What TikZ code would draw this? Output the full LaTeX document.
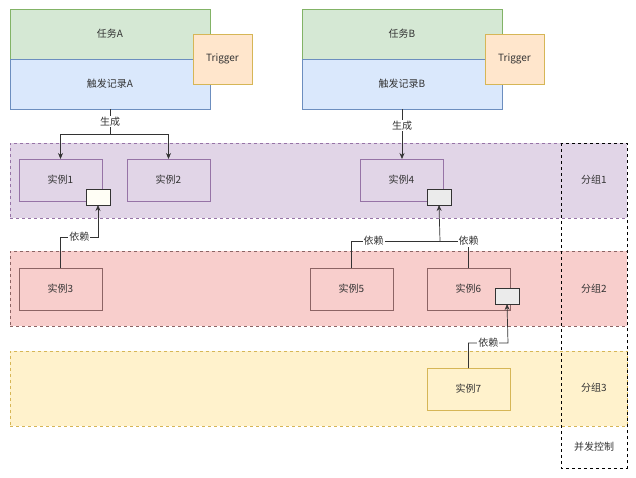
\documentclass[tikz,border=0pt]{standalone}
\usepackage{fontspec}
\setmainfont{Noto Sans CJK SC}
\usetikzlibrary{positioning,arrows.meta}
\definecolor{ink}      {HTML}{333333}
\definecolor{taskfill} {HTML}{D5E8D4}
\definecolor{taskline} {HTML}{82B366}
\definecolor{recfill}  {HTML}{DAE8FC}
\definecolor{recline}  {HTML}{6C8EBF}
\definecolor{trigfill} {HTML}{FFE6CC}
\definecolor{trigline} {HTML}{D6B656}
\definecolor{grpafill} {HTML}{E1D5E7}
\definecolor{grpaline} {HTML}{9673A6}
\definecolor{grpbfill} {HTML}{F8CECC}
\definecolor{grpbline} {HTML}{8C6464}
\definecolor{grpcfill} {HTML}{FFF2CC}
\definecolor{grpcline} {HTML}{D6B656}
\tikzset{
  >=stealth,
  every node/.style={font=\fontsize{10}{12}\selectfont, text=ink},
  % --- nodes
  box/.style   = {draw, anchor=north west, inner sep=0pt, outer sep=0pt,
                  line width=0.6pt, align=center},
  task/.style  = {box, fill=taskfill, draw=taskline, minimum width=200pt, minimum height=50pt},
  rec/.style   = {box, fill=recfill, draw=recline, minimum width=200pt, minimum height=50pt},
  trig/.style  = {box, fill=trigfill, draw=trigline, minimum width=59pt, minimum height=50pt},
  band/.style  = {box, dashed, minimum width=617pt, minimum height=75pt},
  inst/.style  = {box, minimum width=83pt, minimum height=42pt},
  dep/.style   = {box, draw=ink, minimum width=24pt, minimum height=16pt},
  % --- edges
  e/.style     = {-{Stealth[length=6pt,width=5pt]}, line width=0.7pt, draw=ink},
  eline/.style = {line width=0.7pt, draw=ink},
  vlabel/.style= {fill=white, inner sep=1pt},
}
\begin{document}
\begin{tikzpicture}[x=1pt,y=-1pt]
  \useasboundingbox (0,0) rectangle (636,477);

  % groups
  \node[band, fill=grpafill, draw=grpaline] (g1) at (10,143) {};
  \node[band, fill=grpbfill, draw=grpbline] (g2) at (10,251) {};
  \node[band, fill=grpcfill, draw=grpcline] (g3) at (10,351) {};
  \draw[black, dashed, line width=0.7pt] (561,143) rectangle (627,468);
  \node (l1) at (594,180) {分组1};
  \node (l2) at (594,289) {分组2};
  \node (l3) at (594,388) {分组3};
  \node (lc) at (594,447) {并发控制};

  % tasks
  \node[task] (taskA) at (10,9)   {任务A};
  \node[rec]  (recA)  at (10,59)  {触发记录A};
  \node[trig] (trigA) at (193,34) {Trigger};
  \node[task] (taskB) at (302,9)  {任务B};
  \node[rec]  (recB)  at (302,59) {触发记录B};
  \node[trig] (trigB) at (485,34) {Trigger};

  % instances
  \node[inst, draw=grpaline] (ins1) at (19,159)  {实例1};
  \node[inst, draw=grpaline] (ins2) at (127,159) {实例2};
  \node[inst, draw=grpaline] (ins4) at (360,159) {实例4};
  \node[inst, draw=grpbline] (ins3) at (19,268)  {实例3};
  \node[inst, draw=grpbline] (ins5) at (310,268) {实例5};
  \node[inst, draw=grpbline] (ins6) at (427,268) {实例6};
  \node[inst, draw=grpcline] (ins7) at (427,368) {实例7};
  \node[dep, fill=yellow!4]  (dep1) at (86,189)  {};
  \node[dep, fill=black!8]   (dep4) at (427,189) {};
  \node[dep, fill=black!8]   (dep6) at (495,288) {};

  % generate
  \coordinate (forkA) at (110,134);
  \draw[eline] (recA.south) -- node[vlabel] {生成} (forkA);
  \draw[e] (forkA) -| (ins1.north);
  \draw[e] (forkA) -| (ins2.north);
  \draw[e] (recB.south) -- node[vlabel, pos=0.33] {生成} (recB.south |- ins4.north);

  % depends
  \coordinate (j1) at (98,237);
  \draw[e] (ins3.north) |- node[vlabel, pos=0.75] {依赖} (j1) -- (dep1.south);
  \coordinate (j4) at (440,241);
  \draw[eline] (ins5.north) |- node[vlabel, pos=0.625] {依赖} (j4);
  \draw[eline] (ins6.north) |- node[vlabel, pos=0.5] {依赖} (j4);
  \draw[e] (j4) -- (dep4.south);
  \coordinate (j6) at (508,343);
  \draw[e] (ins7.north) |- node[vlabel, pos=0.75] {依赖} (j6) -- (dep6.south);
\end{tikzpicture}
\end{document}
